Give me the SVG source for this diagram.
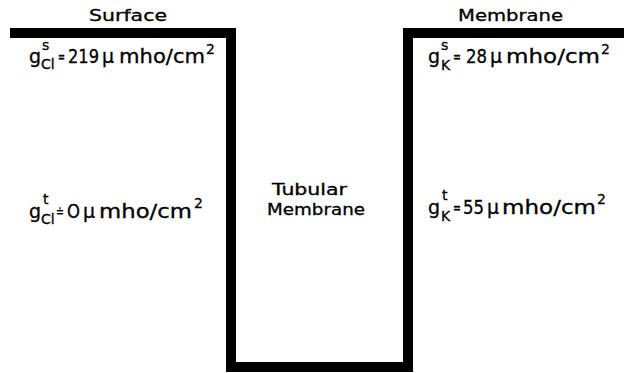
<svg xmlns="http://www.w3.org/2000/svg" width="624" height="373" viewBox="0 0 624 373">
<style>
text{font-family:"DejaVu Sans","Liberation Sans",sans-serif;fill:#000;stroke:#000;stroke-width:0.3}
.lbl{font-size:15px}
.eq{font-size:19px}
.sm{font-size:14px}
.op{font-size:15px}
</style>
<rect width="624" height="373" fill="#fff"/>
<g id="membrane-outline">
<path d="M10 33 H231 V367 H408 V33 H624" fill="none" stroke="#000" stroke-width="10" stroke-linejoin="miter"/>
</g>
<g id="surface-label"><text class="lbl" x="89" y="21" textLength="78" lengthAdjust="spacingAndGlyphs">Surface</text></g>
<g id="membrane-label"><text class="lbl" x="458" y="21" textLength="105" lengthAdjust="spacingAndGlyphs">Membrane</text></g>
<g id="tubular-label">
<text class="lbl" x="272" y="195" textLength="75" lengthAdjust="spacingAndGlyphs">Tubular</text>
<text class="lbl" x="267" y="215" textLength="98" lengthAdjust="spacingAndGlyphs">Membrane</text>
</g>
<g id="gCl-s">
<text class="eq" x="29" y="63">g</text>
<text class="sm" x="42" y="50">s</text>
<text class="sm" x="41" y="69">Cl</text>
<text class="op" x="58" y="62" textLength="7" lengthAdjust="spacingAndGlyphs">=</text>
<text class="eq" x="68" y="63" textLength="31" lengthAdjust="spacingAndGlyphs">219</text>
<text class="eq" x="102" y="63">μ</text>
<text class="eq" x="119" y="63" textLength="86" lengthAdjust="spacingAndGlyphs">mho/cm</text>
<text class="sm" x="206" y="54">2</text>
</g>
<g id="gK-s">
<text class="eq" x="428" y="63">g</text>
<text class="sm" x="441" y="50">s</text>
<text class="sm" x="441" y="70">K</text>
<text class="op" x="453" y="62" textLength="8" lengthAdjust="spacingAndGlyphs">=</text>
<text class="eq" x="466" y="63" textLength="21" lengthAdjust="spacingAndGlyphs">28</text>
<text class="eq" x="490" y="63">μ</text>
<text class="eq" x="506" y="63" textLength="94" lengthAdjust="spacingAndGlyphs">mho/cm</text>
<text class="sm" x="601" y="54">2</text>
</g>
<g id="gCl-t">
<text class="eq" x="29" y="218">g</text>
<text class="sm" x="43" y="204">t</text>
<text class="sm" x="41" y="224">Cl</text>
<text class="op" x="56" y="217" textLength="8" lengthAdjust="spacingAndGlyphs">≐</text>
<text class="eq" x="67" y="218" textLength="13" lengthAdjust="spacingAndGlyphs">O</text>
<text class="eq" x="83" y="218">μ</text>
<text class="eq" x="99" y="218" textLength="93" lengthAdjust="spacingAndGlyphs">mho/cm</text>
<text class="sm" x="194" y="208">2</text>
</g>
<g id="gK-t">
<text class="eq" x="428" y="214">g</text>
<text class="sm" x="442" y="200">t</text>
<text class="sm" x="441" y="221">K</text>
<text class="op" x="453" y="213" textLength="8" lengthAdjust="spacingAndGlyphs">=</text>
<text class="eq" x="463" y="214" textLength="21" lengthAdjust="spacingAndGlyphs">55</text>
<text class="eq" x="487" y="214">μ</text>
<text class="eq" x="502" y="214" textLength="94" lengthAdjust="spacingAndGlyphs">mho/cm</text>
<text class="sm" x="597" y="204">2</text>
</g>
</svg>
